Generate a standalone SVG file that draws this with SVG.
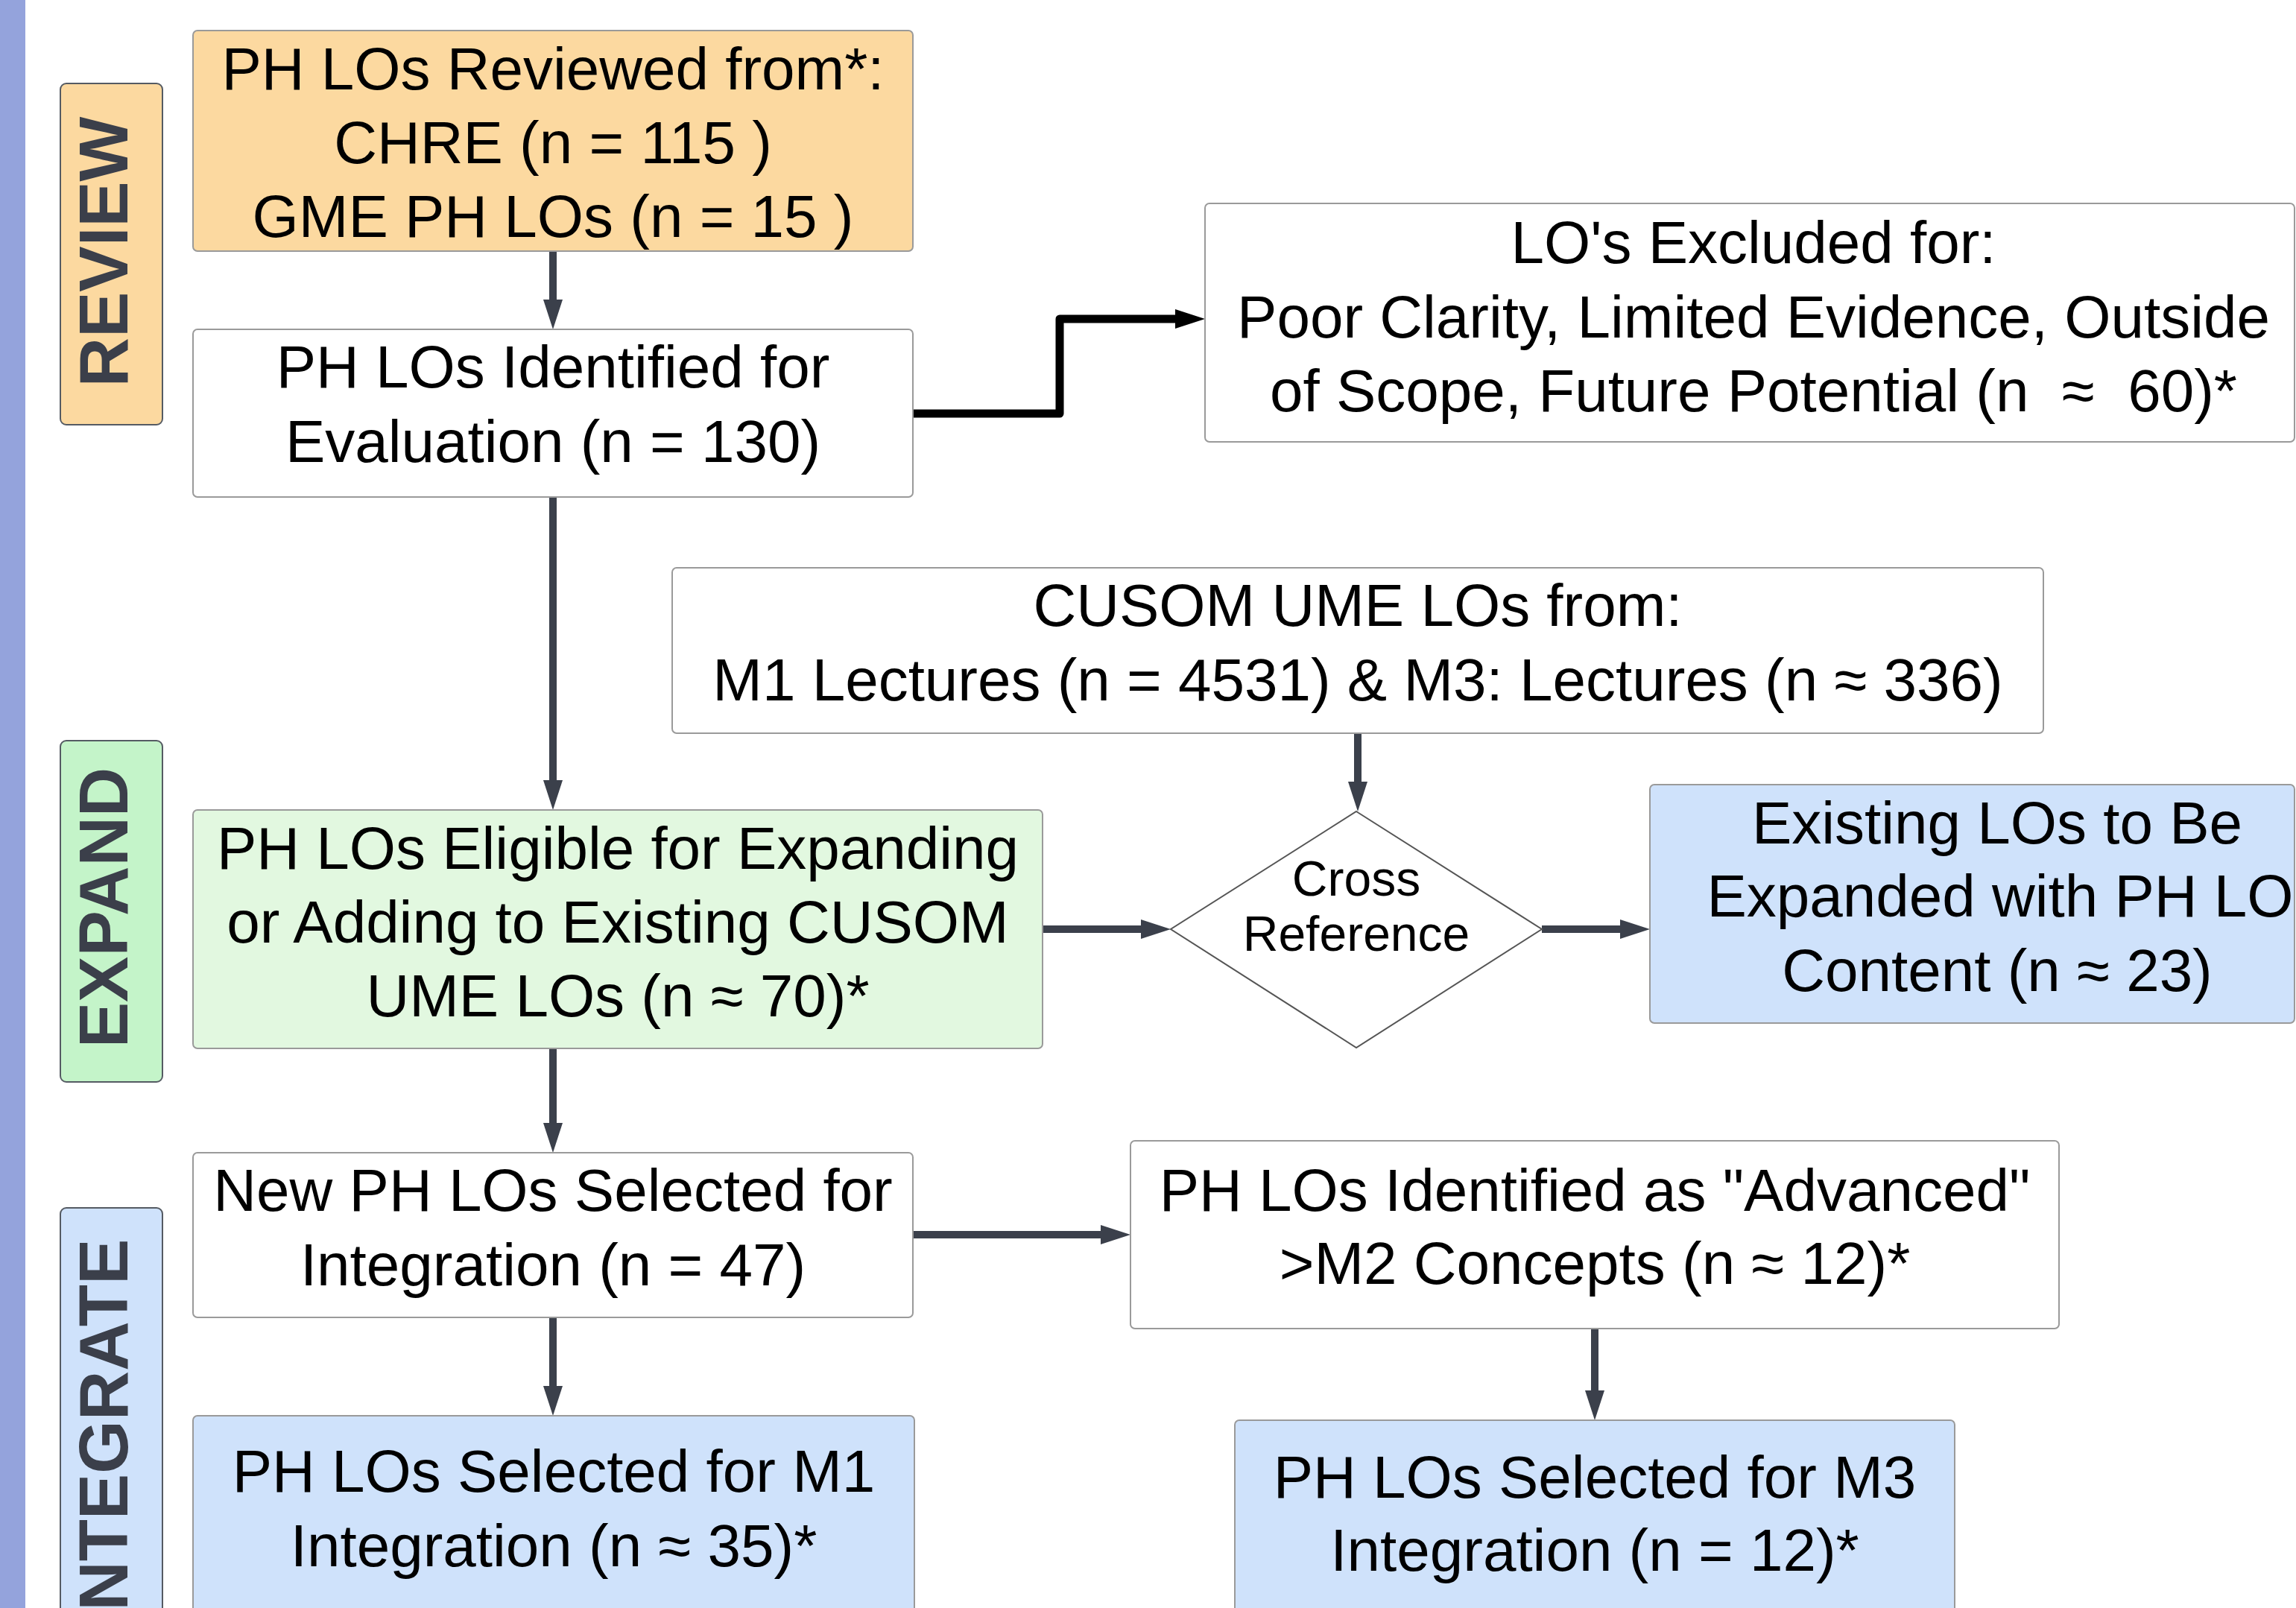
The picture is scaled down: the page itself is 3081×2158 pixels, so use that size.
<svg xmlns="http://www.w3.org/2000/svg" width="3081" height="2158" viewBox="0 0 3081 2158">
<style>
.t{font-family:"Liberation Sans",Arial,sans-serif;font-size:80px;fill:#000;text-anchor:middle}
.d{font-family:"Liberation Sans",Arial,sans-serif;font-size:66px;fill:#000;text-anchor:middle}
.lab{font-family:"Liberation Sans",Arial,sans-serif;font-size:92px;font-weight:bold;fill:#3b3f4a;text-anchor:middle}
.box{stroke:#9a9a9a;stroke-width:2}
.lbox{stroke:#555b63;stroke-width:2}
.c{fill:none;stroke:#3b404b;stroke-width:10}
.k{fill:none;stroke:#000;stroke-width:11;stroke-linejoin:round}
</style>
<defs>
<marker id="ah" viewBox="0 0 40 26" markerWidth="40" markerHeight="26" markerUnits="userSpaceOnUse" refX="0" refY="13" orient="auto"><path d="M0,0 L40,13 L0,26 z" fill="#3b404b"/></marker>
<marker id="ak" viewBox="0 0 40 26" markerWidth="40" markerHeight="26" markerUnits="userSpaceOnUse" refX="0" refY="13" orient="auto"><path d="M0,0 L40,13 L0,26 z" fill="#000"/></marker>
</defs>
<rect width="3081" height="2158" fill="#fff"/>
<rect x="0" y="0" width="34" height="2158" fill="#94a3dc"/>

<g id="label-review"><rect class="lbox" x="81" y="112" width="137" height="458" rx="8" fill="#fcd9a0"/><text class="lab" transform="translate(171,338) rotate(-90)">REVIEW</text></g>
<g id="label-expand"><rect class="lbox" x="81" y="994" width="137" height="458" rx="8" fill="#c4f4c9"/><text class="lab" transform="translate(171,1218) rotate(-90)">EXPAND</text></g>
<g id="label-integrate"><rect class="lbox" x="81" y="1621" width="137" height="620" rx="8" fill="#cfe2fb"/><text class="lab" transform="translate(171,1925) rotate(-90)">INTEGRATE</text></g>

<g id="connectors">
<path class="c" d="M742,338 V402" marker-end="url(#ah)"/>
<path class="k" d="M1225,555 H1422 V428 H1577" marker-end="url(#ak)"/>
<path class="c" d="M742,668 V1047" marker-end="url(#ah)"/>
<path class="c" d="M1822,984 V1049" marker-end="url(#ah)"/>
<path class="c" d="M1399,1247 H1531" marker-end="url(#ah)"/>
<path class="c" d="M2069,1247 H2174" marker-end="url(#ah)"/>
<path class="c" d="M742,1407 V1507" marker-end="url(#ah)"/>
<path class="c" d="M1225,1657 H1477" marker-end="url(#ah)"/>
<path class="c" d="M742,1768 V1860" marker-end="url(#ah)"/>
<path class="c" d="M2140,1783 V1866" marker-end="url(#ah)"/>
</g>

<g id="n-reviewed"><rect class="box" x="259" y="41" width="966" height="296" rx="6" fill="#fcd9a0"/>
<text class="t" x="742" y="120">PH LOs Reviewed from*:</text>
<text class="t" x="742" y="219">CHRE (n = 115 )</text>
<text class="t" x="742" y="318">GME PH LOs (n = 15 )</text></g>

<g id="n-identified"><rect class="box" x="259" y="442" width="966" height="225" rx="6" fill="#fff"/>
<text class="t" x="742" y="520">PH LOs Identified for</text>
<text class="t" x="742" y="620">Evaluation (n = 130)</text></g>

<g id="n-excluded"><rect class="box" x="1617" y="273" width="1462" height="320" rx="6" fill="#fff"/>
<text class="t" x="2353" y="353">LO's Excluded for:</text>
<text class="t" x="2353" y="453">Poor Clarity, Limited Evidence, Outside</text>
<text class="t" x="2353" y="552">of Scope, Future Potential (n&#160; ≈&#160; 60)*</text></g>

<g id="n-cusom"><rect class="box" x="902" y="762" width="1840" height="222" rx="6" fill="#fff"/>
<text class="t" x="1822" y="840">CUSOM UME LOs from:</text>
<text class="t" x="1822" y="940">M1 Lectures (n = 4531) &amp; M3: Lectures (n ≈ 336)</text></g>

<g id="n-cross"><polygon points="1820,1089 2069,1247 1820,1406 1571,1247" fill="#fff" stroke="#555" stroke-width="2"/>
<text class="d" x="1820" y="1202">Cross</text>
<text class="d" x="1820" y="1276">Reference</text></g>

<g id="n-eligible"><rect class="box" x="259" y="1087" width="1140" height="320" rx="6" fill="#e2f8e0"/>
<text class="t" x="829" y="1166">PH LOs Eligible for Expanding</text>
<text class="t" x="829" y="1265">or Adding to Existing CUSOM</text>
<text class="t" x="829" y="1364">UME LOs (n ≈ 70)*</text></g>

<g id="n-expanded"><rect class="box" x="2214" y="1053" width="865" height="320" rx="6" fill="#cfe2fb"/>
<text class="t" x="2680" y="1132">Existing LOs to Be</text>
<text class="t" x="2684" y="1230">Expanded with PH LO</text>
<text class="t" x="2680" y="1330">Content (n ≈ 23)</text></g>

<g id="n-new"><rect class="box" x="259" y="1547" width="966" height="221" rx="6" fill="#fff"/>
<text class="t" x="742" y="1625">New PH LOs Selected for</text>
<text class="t" x="742" y="1725">Integration (n = 47)</text></g>

<g id="n-advanced"><rect class="box" x="1517" y="1531" width="1246" height="252" rx="6" fill="#fff"/>
<text class="t" x="2140" y="1625">PH LOs Identified as "Advanced"</text>
<text class="t" x="2140" y="1723">&gt;M2 Concepts (n ≈ 12)*</text></g>

<g id="n-m1"><rect class="box" x="259" y="1900" width="968" height="320" rx="6" fill="#cfe2fb"/>
<text class="t" x="743" y="2002">PH LOs Selected for M1</text>
<text class="t" x="743" y="2102">Integration (n ≈ 35)*</text></g>

<g id="n-m3"><rect class="box" x="1657" y="1906" width="966" height="320" rx="6" fill="#cfe2fb"/>
<text class="t" x="2140" y="2010">PH LOs Selected for M3</text>
<text class="t" x="2140" y="2108">Integration (n = 12)*</text></g>
</svg>
